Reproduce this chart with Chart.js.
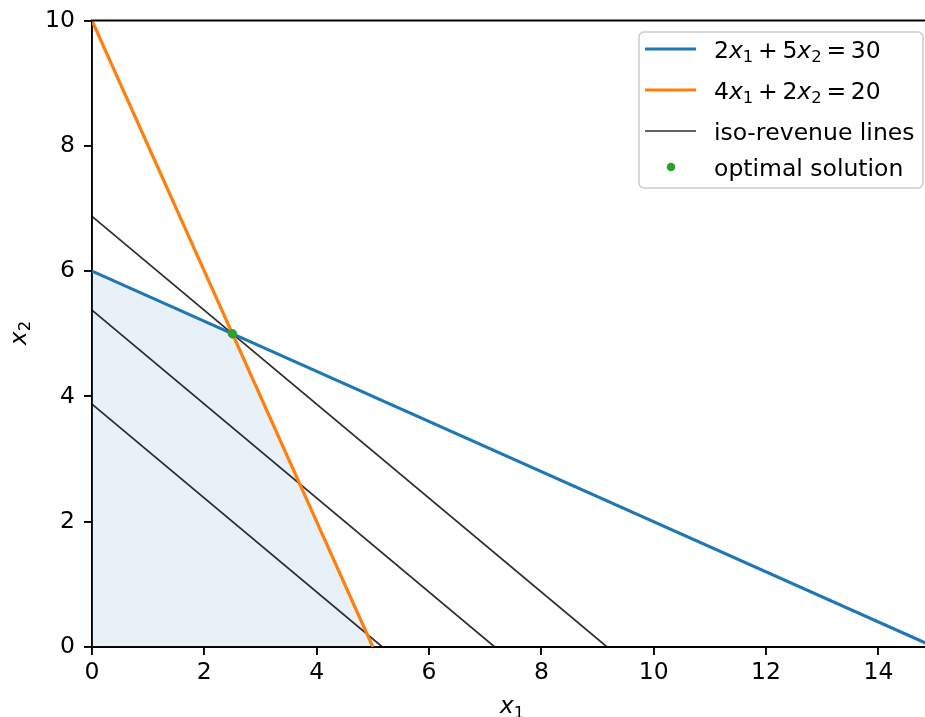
<!DOCTYPE html>
<html>
<head>
<meta charset="utf-8">
<script src="https://cdn.jsdelivr.net/npm/chart.js@4/dist/chart.umd.min.js"></script>
<style>
  html, body { margin: 0; padding: 0; background: #fff; overflow: hidden; }
  canvas { display: block; }
</style>
</head>
<body>
<canvas id="lp" width="925" height="717"></canvas>
<script>
// values
const blueX = [0, 15], blueY = [6, 0];
const orangeX = [0, 5], orangeY = [10, 0];
const isoStartY = [6.875, 5.375, 3.875], isoEndX = [9.17, 7.17, 5.17];
const regionX = [0, 2.5, 5], regionY = [6, 5, 0];
const optX = [2.5], optY = [5];
const xTicks = [0, 2, 4, 6, 8, 10, 12, 14];
const yTicks = [0, 2, 4, 6, 8, 10];
const legendLabels = ['2x_1 + 5x_2 = 30', '4x_1 + 2x_2 = 20', 'iso-revenue lines', 'optimal solution'];
const axisLabels = ['x_1', 'x_2'];

const FONT = 'DejaVu Sans', FS = 23.5;
const C_BLUE = '#1f77b4', C_ORANGE = '#ff7f0e', C_GREEN = '#2ca02c';

const pts = (xs, ys) => xs.map((x, i) => ({ x: x, y: ys[i] }));

// mathtext-ish: letters italic, _d subscript, narrow spaces
function mathParts(str) {
    let parts = [], isMath = str.includes('_');
    for (let i = 0; i < str.length; i++) {
        let ch = str[i];
        if (isMath && ch === '_') { parts.push({ t: str[i + 1], sub: true }); i++; }
        else if (isMath && /[a-z]/.test(ch)) parts.push({ t: ch, it: true });
        else if (isMath && ch === ' ') parts.push({ t: '', gap: 0.2 });
        else parts.push({ t: ch });
    }
    return parts;
}
function partFont(p, size) { return (p.it ? 'italic ' : '') + (p.sub ? size * 0.7 : size) + 'px "' + FONT + '"'; }
function partWidth(ctx, p, size) { if (p.gap) return p.gap * size; ctx.font = partFont(p, size); return ctx.measureText(p.t).width; }
function mathWidth(ctx, str, size) {
    let w = 0; mathParts(str).forEach(p => { w += partWidth(ctx, p, size); }); return w;
}
function drawMath(ctx, str, x, y, size, align) {
    let w = mathWidth(ctx, str, size), cx = align === 'center' ? x - w / 2 : x;
    ctx.textBaseline = 'alphabetic'; ctx.textAlign = 'left'; ctx.fillStyle = '#000';
    mathParts(str).forEach(p => {
        let pw = partWidth(ctx, p, size);
        if (!p.gap) { ctx.font = partFont(p, size); ctx.fillText(p.t, cx, p.sub ? y + size * 0.2 : y); }
        cx += pw;
    });
}

const datasets = [
    { data: pts(optX, optY), label: legendLabels[3], kind: 'dot', backgroundColor: C_GREEN, borderColor: C_GREEN, pointRadius: 4.3, showLine: false, order: 0 },
    { data: pts(orangeX, orangeY), label: legendLabels[1], kind: 'line', borderColor: C_ORANGE, borderWidth: 3.2, showLine: true, pointRadius: 0, order: 1 },
    { data: pts(blueX, blueY), label: legendLabels[0], kind: 'line', borderColor: C_BLUE, borderWidth: 3.2, showLine: true, pointRadius: 0, order: 2 }
];
isoStartY.forEach((y0, i) => {
    datasets.push({ data: [{ x: 0, y: y0 }, { x: isoEndX[i], y: 0 }], label: i === 0 ? legendLabels[2] : null, kind: 'line',
        borderColor: 'rgba(0,0,0,0.82)', borderWidth: 1.7, showLine: true, pointRadius: 0, order: 3 });
});
datasets.push({ data: pts(regionX, regionY), label: null, borderWidth: 0, borderColor: 'rgba(0,0,0,0)', backgroundColor: 'rgba(31,119,180,0.1)',
    fill: 'origin', showLine: true, pointRadius: 0, order: 4 });

const mplDecor = {
    id: 'mplDecor',
    afterDraw(chart) {
        const ctx = chart.ctx, a = chart.chartArea;
        ctx.save();
        // top spine
        ctx.strokeStyle = '#000'; ctx.lineWidth = 1.9;
        ctx.beginPath(); ctx.moveTo(a.left - 1, a.top); ctx.lineTo(a.right, a.top); ctx.stroke();
        // axis titles
        drawMath(ctx, axisLabels[0], 512, 713, FS, 'center');
        ctx.save(); ctx.translate(25.5, 333); ctx.rotate(-Math.PI / 2);
        drawMath(ctx, axisLabels[1], 0, 0, FS, 'center'); ctx.restore();
        // legend
        const items = chart.data.datasets.filter(d => d.label).sort((p, q) => legendLabels.indexOf(p.label) - legendLabels.indexOf(q.label));
        const bx = 639, by = 32, bw = 284, bh = 156, r = 5;
        ctx.fillStyle = 'rgba(255,255,255,0.8)'; ctx.strokeStyle = '#cccccc'; ctx.lineWidth = 1.5;
        ctx.beginPath(); ctx.roundRect(bx, by, bw, bh, r); ctx.fill(); ctx.stroke();
        const rowY = [49, 90, 131, 167];
        items.forEach((d, i) => {
            let y = rowY[i];
            if (d.kind === 'dot') {
                ctx.fillStyle = d.backgroundColor; ctx.beginPath(); ctx.arc(671, y, d.pointRadius, 0, Math.PI * 2); ctx.fill();
            } else {
                ctx.strokeStyle = d.borderColor; ctx.lineWidth = d.borderWidth;
                ctx.beginPath(); ctx.moveTo(645, y); ctx.lineTo(696, y); ctx.stroke();
            }
            drawMath(ctx, d.label, 714, y + 8.5, FS, 'left');
        });
        ctx.restore();
    }
};

new Chart(document.getElementById('lp'), {
    type: 'scatter',
    data: { datasets: datasets },
    options: {
        responsive: false, animation: false, devicePixelRatio: 1,
        layout: { autoPadding: false, padding: { top: 20.5, right: 0, left: 0, bottom: 0 } },
        plugins: { legend: { display: false }, tooltip: { enabled: false } },
        scales: {
            x: {
                type: 'linear', min: 0, max: 14.83,
                afterFit: s => { s.height = 70; s.paddingLeft = 0; s.paddingRight = 0; },
                afterBuildTicks: s => { s.ticks = xTicks.map(v => ({ value: v })); },
                ticks: { color: '#000', font: { family: FONT, size: FS }, padding: 4, maxRotation: 0 },
                grid: { drawOnChartArea: false, tickLength: 8, color: '#000', lineWidth: 1.9 },
                border: { color: '#000', width: 1.9 }
            },
            y: {
                type: 'linear', min: 0, max: 10,
                afterFit: s => { s.width = 92; s.paddingTop = 0; s.paddingBottom = 0; },
                afterBuildTicks: s => { s.ticks = yTicks.map(v => ({ value: v })); },
                ticks: { color: '#000', font: { family: FONT, size: FS }, padding: 9 },
                grid: { drawOnChartArea: false, tickLength: 8, color: '#000', lineWidth: 1.9 },
                border: { color: '#000', width: 1.9 }
            }
        }
    },
    plugins: [mplDecor]
});
</script>
</body>
</html>
